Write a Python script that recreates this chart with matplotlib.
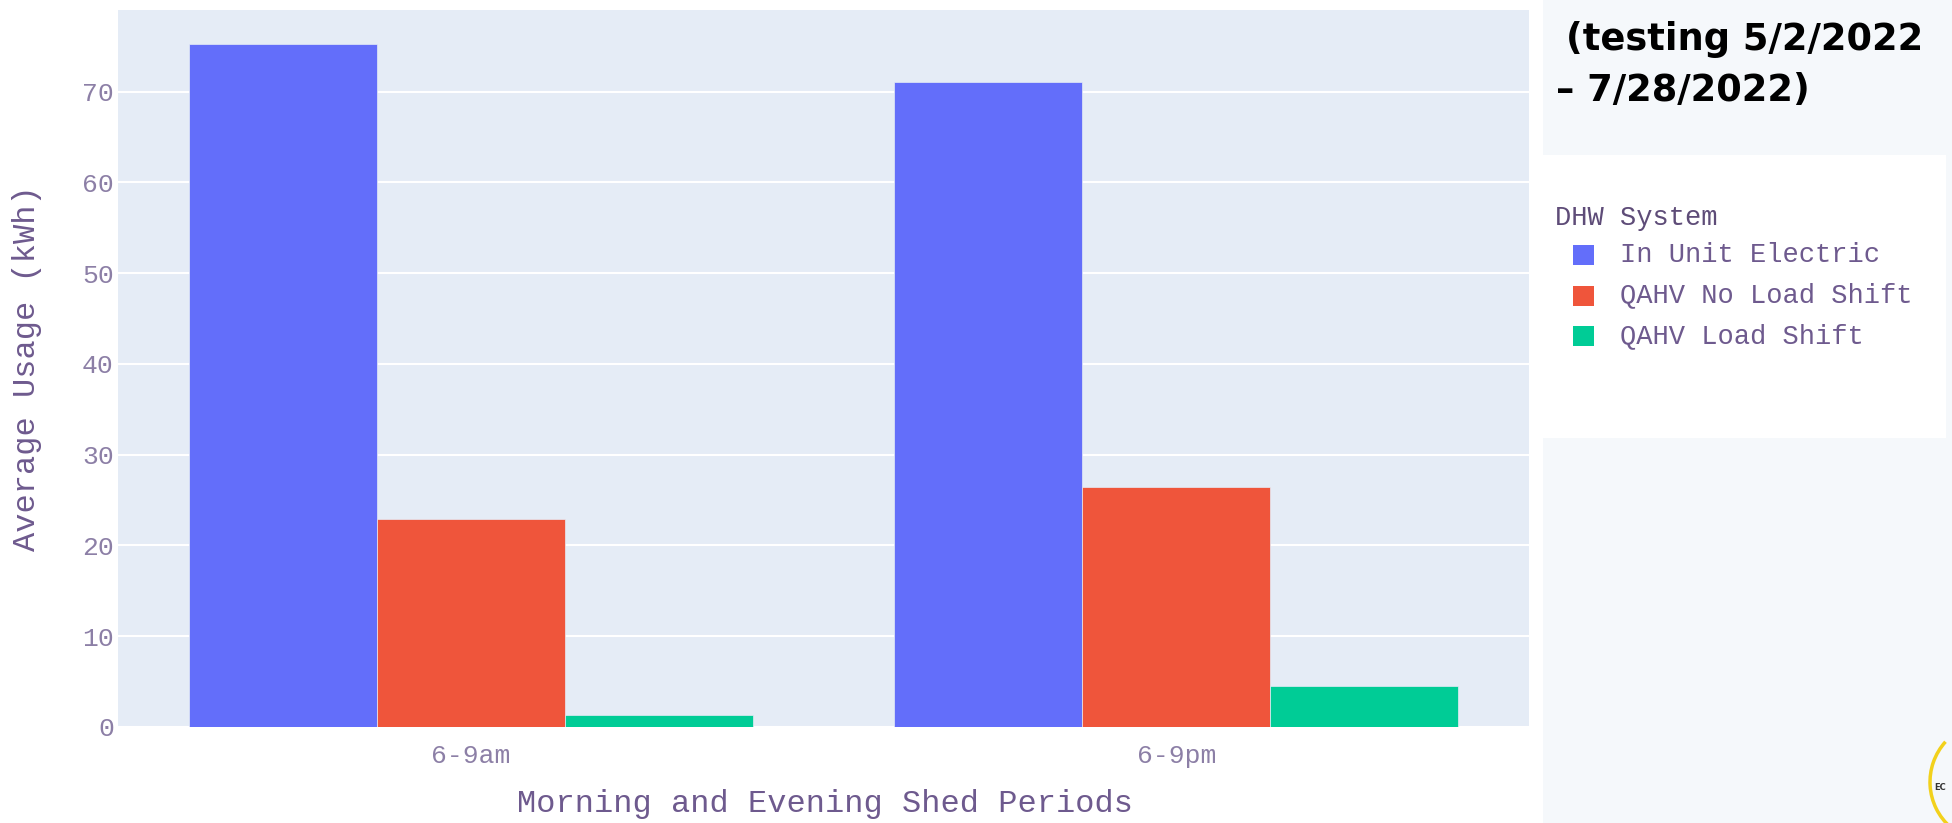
import matplotlib.pyplot as plt
from matplotlib.patches import Rectangle, Arc
import numpy as np

# average usage per shed period, one list per DHW system
periods = ["6-9am", "6-9pm"]
systems = ["In Unit Electric", "QAHV No Load Shift", "QAHV Load Shift"]
in_unit_electric = [75.2, 71.1]
qahv_no_shift = [22.9, 26.4]
qahv_shift = [1.3, 4.5]
yticks = [0, 10, 20, 30, 40, 50, 60, 70]

colors = ["#636efa", "#ef553b", "#00cc96"]
tick_color = "#8c7fa6"
title_color = "#6e5a8e"
mono = "Liberation Mono"

W, H = 1952, 823


def fx(px):
    return px / W


def fy(py):
    return 1 - py / H


fig = plt.figure(figsize=(W / 100, H / 100), dpi=100, facecolor="white")

# slide panel on the right
fig.patches.append(Rectangle((fx(1543), 0), 1 - fx(1543), 1, transform=fig.transFigure,
                             facecolor="#f5f8fb", edgecolor="none", zorder=0))

ax = fig.add_axes([fx(118), fy(727), fx(1529) - fx(118), fy(10) - fy(727)])
ax.set_facecolor("#e5ecf6")
for s in ax.spines.values():
    s.set_visible(False)

series = [in_unit_electric, qahv_no_shift, qahv_shift]
x = np.arange(len(periods))
w = 0.8 / len(series)
bars = []
for j, (vals, c) in enumerate(zip(series, colors)):
    b = ax.bar(x + (j - 1) * w, vals, width=w, color=c, edgecolor="#e5ecf6",
               linewidth=0.5, zorder=3)
    bars.append(b)

ax.set_xlim(-0.5, 1.5)
ax.set_ylim(0, 79)
ax.set_yticks(yticks)
ax.set_xticks(x)
ax.set_xticklabels(periods)
ax.grid(axis="y", color="white", linewidth=1.5, zorder=1)
ax.tick_params(axis="both", length=0, colors=tick_color)
ax.tick_params(axis="y", pad=3)
ax.tick_params(axis="x", pad=12)
for lab in ax.get_yticklabels() + ax.get_xticklabels():
    lab.set_fontfamily(mono)
    lab.set_fontsize(19)

fig.text(fx(825), fy(804), "Morning and Evening Shed Periods", family=mono, fontsize=23,
         color=title_color, ha="center", va="center")
fig.text(fx(27), fy(368), "Average Usage (kWh)", family=mono, fontsize=23,
         color=title_color, ha="center", va="center", rotation=90)

# heading on the slide panel
fig.text(fx(1566), fy(50), "(testing 5/2/2022", fontsize=26.5, fontweight="bold",
         color="black", ha="left", va="baseline")
fig.text(fx(1556), fy(101), "\u2013 7/28/2022)", fontsize=26.5, fontweight="bold",
         color="black", ha="left", va="baseline")

# legend box
fig.patches.append(Rectangle((fx(1529), fy(438)), fx(1946) - fx(1529), fy(155) - fy(438),
                             transform=fig.transFigure, facecolor="white",
                             edgecolor="none", zorder=1))
fig.text(fx(1555), fy(218), "DHW System", family=mono, fontsize=19.5,
         color="#5e4c78", ha="left", va="center")
for k, (name, c) in enumerate(zip(systems, colors)):
    yc = 255 + k * 40.5
    fig.patches.append(Rectangle((fx(1573), fy(yc + 10)), fx(1594) - fx(1573),
                                 fy(yc - 10) - fy(yc + 10), transform=fig.transFigure,
                                 facecolor=c, edgecolor="none", zorder=2))
    fig.text(fx(1620), fy(yc), name, family=mono, fontsize=19.5,
             color="#6e5a8e", ha="left", va="center")

# corner logo
fig.patches.append(Arc((fx(1990), fy(782)), fx(120), 120 / H, theta1=115, theta2=250,
                       transform=fig.transFigure, color="#f2d11c", linewidth=2.5, zorder=2))
fig.text(fx(1934), fy(787), "EC", fontsize=6, fontweight="bold", color="#333333",
         ha="left", va="center")

fig.savefig("out.png", dpi=100)
